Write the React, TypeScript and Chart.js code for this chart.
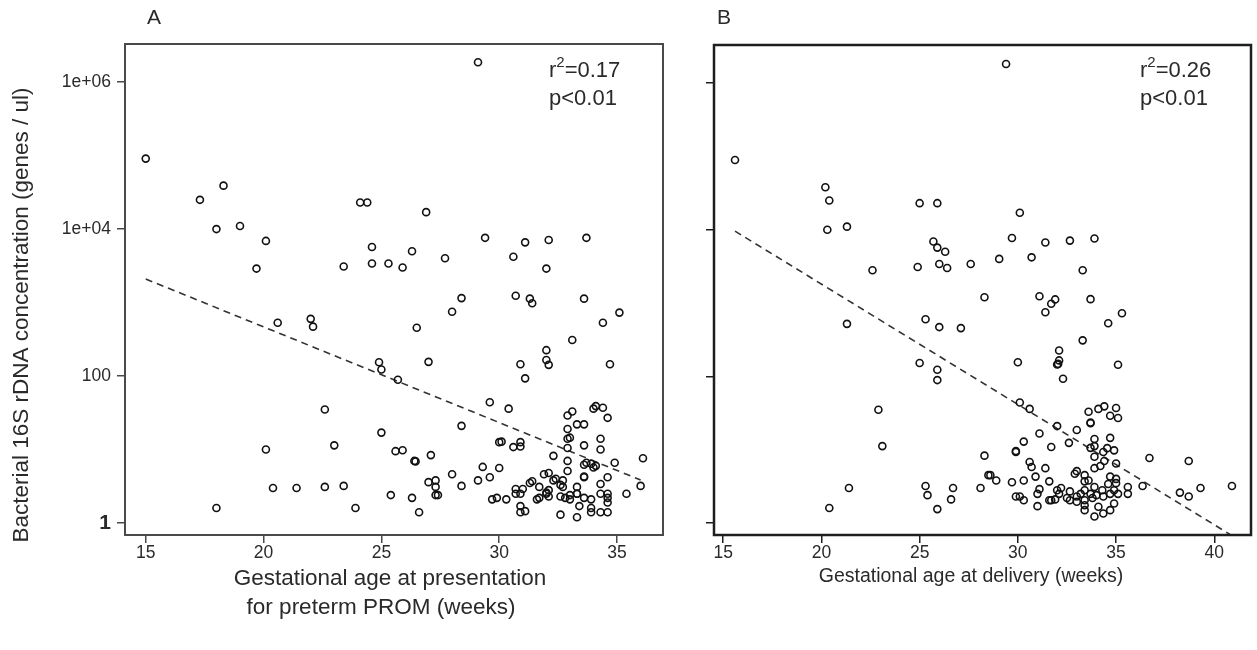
import React, { useEffect, useRef } from 'react';
import { Chart, registerables } from 'chart.js';
Chart.register(...registerables);

// ---------- Panel A: gestational age at presentation vs bacterial load ----------
const presentationWeeks = [
  15.0, 17.3, 18.3, 18.0, 19.0, 20.1, 19.7, 24.1, 24.4, 24.6, 24.6, 23.4, 25.3, 25.9, 26.3, 29.1, 26.9, 27.7, 29.4, 31.1,
  32.1, 33.7, 30.6, 32.0, 20.6, 22.0, 22.1, 26.5, 24.9, 25.0, 25.7, 22.6, 25.0, 20.1, 23.0, 25.6, 25.9, 26.4, 26.45, 20.4,
  21.4, 22.6, 23.4, 18.0, 23.9, 25.4, 26.3, 26.6, 28.4, 28.0, 27.0, 30.7, 31.3, 31.4, 33.6, 35.1, 34.4, 33.1, 32.0, 32.0,
  32.1, 30.9, 31.1, 34.7, 29.6, 30.4, 28.4, 27.1, 30.0, 30.1, 30.6, 30.9, 30.9, 27.0, 27.3, 27.3, 27.3, 27.4, 28.0, 28.4,
  29.1, 29.3, 29.6, 30.0, 29.7, 29.9, 30.3, 30.7, 30.7, 31.0, 30.9, 30.9, 30.9, 31.1, 31.3, 31.4, 31.6, 31.7, 31.7, 31.9,
  32.1, 32.0, 32.1, 32.1, 32.3, 32.3, 32.6, 32.7, 32.7, 32.9, 33.1, 32.9, 32.9, 33.0, 32.9, 32.9, 32.9, 33.3, 33.6, 33.6,
  33.6, 33.7, 33.9, 34.0, 34.1, 33.6, 33.6, 34.0, 34.1, 34.4, 34.6, 34.3, 34.3, 34.9, 34.6, 34.3, 34.3, 34.6, 34.6, 34.6,
  34.6, 34.3, 33.9, 33.9, 33.9, 33.3, 33.3, 33.4, 33.3, 33.6, 35.4, 36.1, 36.0, 32.6, 32.8, 33.0, 33.0, 33.3, 32.4, 32.6,
  32.0,
];
const bacteriaA = [
  91000, 25000, 39000, 10000, 11000, 6900, 2900, 23000, 23000, 5700, 3400, 3100, 3400, 3000, 5000, 1860000, 17000, 4000, 7600, 6600,
  7100, 7600, 4200, 2900, 530, 600, 470, 455, 154, 123, 89, 35, 17, 10, 11.4, 9.5, 9.8, 7.0, 6.9, 3.0,
  3.0, 3.1, 3.2, 1.6, 1.6, 2.4, 2.2, 1.4, 1150, 750, 156, 1240, 1130, 980, 1130, 730, 530, 310, 225, 165,
  142, 145, 93, 145, 44, 36, 21, 8.4, 12.6, 12.8, 10.8, 11, 12.6, 3.6, 3.8, 3.1, 2.4, 2.4, 4.6, 3.2,
  3.8, 5.8, 4.2, 5.6, 2.1, 2.2, 2.1, 2.9, 2.5, 2.9, 2.5, 1.7, 1.4, 1.45, 3.5, 3.7, 2.1, 2.2, 3.1, 4.6,
  4.8, 2.5, 2.8, 2.3, 8.2, 3.8, 1.3, 3.8, 3.1, 29, 33, 19, 14, 14.5, 10.5, 7.0, 5.1, 22, 22, 11.4,
  6.2, 6.6, 6.4, 5.7, 6.0, 4.2, 4.3, 36, 39, 37, 27, 14, 10, 6.6, 4.2, 3.4, 2.5, 2.5, 2.2, 1.9,
  1.4, 1.4, 1.4, 1.6, 2.1, 3.1, 2.5, 1.7, 1.2, 2.2, 2.5, 7.6, 3.2, 2.3, 2.2, 2.1, 2.4, 2.5, 4.0, 3.3,
  2.6,
];
const fitWeeksA = [15.0, 36.0];
const fitBacteriaA = [2090, 3.85];

// ---------- Panel B: gestational age at delivery vs bacterial load ----------
const deliveryWeeks = [
  15.6, 20.2, 20.4, 20.3, 21.3, 22.6, 25.0, 25.9, 25.7, 25.9, 26.3, 24.9, 26.0, 26.4, 27.6, 29.4, 30.1, 29.7, 31.4, 32.65,
  33.9, 29.05, 30.7, 33.3, 28.3, 31.1, 31.7, 31.9, 31.4, 33.7, 35.3, 34.6, 33.3, 32.1, 32.1, 32.0, 32.05, 32.3, 30.0, 35.1,
  21.3, 25.3, 26.0, 27.1, 25.0, 25.9, 25.9, 22.9, 23.1, 28.3, 28.5, 21.4, 20.4, 25.3, 25.4, 25.9, 26.7, 26.6, 28.1, 30.1,
  30.6, 32.0, 31.1, 33.0, 32.6, 30.3, 29.9, 29.9, 31.7, 28.6, 28.9, 29.7, 30.3, 30.9, 31.6, 30.6, 30.7, 31.4, 29.9, 30.1,
  30.3, 31.0, 31.1, 31.0, 31.7, 33.6, 34.1, 34.4, 35.0, 34.7, 35.1, 33.7, 33.7, 33.9, 33.7, 33.9, 34.7, 34.55, 34.9, 34.35,
  33.9, 34.4, 35.0, 33.9, 34.2, 36.7, 38.7, 33.0, 32.9, 33.4, 33.6, 33.4, 34.7, 35.0, 34.6, 35.0, 35.6, 35.6, 36.35, 38.25,
  38.7, 39.3, 40.9, 32.0, 32.2, 32.1, 32.65, 32.5, 33.0, 33.2, 32.65, 33.4, 33.7, 33.9, 34.0, 34.3, 33.4, 33.8, 34.35, 34.7,
  34.9, 35.1, 34.9, 34.7, 34.35, 33.9, 33.4, 33.4, 34.1, 31.6, 31.9, 33.0,
];
const bacteriaB = [
  89000, 38000, 25000, 10000, 11000, 2800, 23000, 23000, 6900, 5700, 5000, 3100, 3400, 3000, 3400, 1820000, 17000, 7700, 6700, 7100,
  7600, 4000, 4200, 2800, 1200, 1240, 980, 1120, 750, 1130, 725, 530, 310, 225, 165, 145, 148, 93, 156, 144,
  520, 600, 470, 455, 152, 123, 89, 35, 11.2, 8.3, 4.5, 3.0, 1.6, 3.2, 2.4, 1.55, 3.0, 2.1, 3.0, 44,
  36, 21, 16.6, 18.6, 12.4, 12.9, 9.3, 9.6, 10.9, 4.5, 3.8, 3.6, 3.8, 4.3, 3.7, 6.8, 5.8, 5.6, 2.3, 2.3,
  2.05, 2.5, 2.9, 1.7, 2.05, 33, 36, 39, 37, 29, 27, 23, 23.5, 14, 10.6, 11.2, 14.5, 10.5, 9.8, 9.3,
  8.0, 7.0, 6.5, 5.6, 6.0, 7.7, 7.0, 5.1, 4.7, 4.5, 3.8, 3.7, 4.3, 4.0, 3.4, 3.5, 3.1, 2.5, 3.2, 2.6,
  2.3, 3.0, 3.2, 2.8, 3.0, 2.5, 2.7, 2.2, 2.3, 2.5, 2.05, 2.8, 2.5, 3.1, 2.4, 2.8, 2.05, 2.2, 2.3, 2.5,
  2.8, 2.5, 1.85, 1.5, 1.35, 1.23, 1.5, 1.75, 1.67, 2.05, 2.1, 1.95,
];
const fitWeeksB = [15.6, 40.8];
const fitBacteriaB = [9550, 0.7];

// ---------- Axes ----------
const xTicksA = [15, 20, 25, 30, 35];
const xTicksB = [15, 20, 25, 30, 35, 40];
const yTickValues = [1, 100, 10000, 1000000];
const yTickLabels = ['1', '100', '1e+04', '1e+06'];

const FONT = '"Liberation Sans", Arial, Helvetica, sans-serif';
const INK = '#2a2a2a';
const H = 650;

interface PanelSpec {
  canvasLeft: number;
  canvasWidth: number;
  weeks: number[];
  bacteria: number[];
  fitWeeks: number[];
  fitBacteria: number[];
  xMin: number;
  xMax: number;
  xTicks: number[];
  showYLabels: boolean;
  plotLeft: number;
  plotRight: number;
  plotTop: number;
  plotBottom: number;
  frameColor: string;
  frameWidth: number;
  letter: string;
  letterX: number;
  r2: string;
  statX: number;
  xTitle: string[];
  xTitleX: number[];
  xTitleY: number[];
  xTitleSize: number;
  yTitle?: string;
}

const specA: PanelSpec = {
  canvasLeft: 0,
  canvasWidth: 690,
  weeks: presentationWeeks,
  bacteria: bacteriaA,
  fitWeeks: fitWeeksA,
  fitBacteria: fitBacteriaA,
  xMin: 14.12,
  xMax: 36.95,
  xTicks: xTicksA,
  showYLabels: true,
  plotLeft: 125,
  plotRight: 663,
  plotTop: 44,
  plotBottom: 535,
  frameColor: '#4a4a4a',
  frameWidth: 2,
  letter: 'A',
  letterX: 147,
  r2: '0.17',
  statX: 549,
  xTitle: ['Gestational age at presentation', 'for preterm PROM (weeks)'],
  xTitleX: [390, 381],
  xTitleY: [579, 608],
  xTitleSize: 22.5,
  yTitle: 'Bacterial 16S rDNA concentration (genes / ul)',
};

const specB: PanelSpec = {
  canvasLeft: 690,
  canvasWidth: 567,
  weeks: deliveryWeeks,
  bacteria: bacteriaB,
  fitWeeks: fitWeeksB,
  fitBacteria: fitBacteriaB,
  xMin: 14.53,
  xMax: 41.87,
  xTicks: xTicksB,
  showYLabels: false,
  plotLeft: 714,
  plotRight: 1251,
  plotTop: 45,
  plotBottom: 535,
  frameColor: '#1e1e1e',
  frameWidth: 2.5,
  letter: 'B',
  letterX: 717,
  r2: '0.26',
  statX: 1140,
  xTitle: ['Gestational age at delivery (weeks)'],
  xTitleX: [971],
  xTitleY: [577],
  xTitleSize: 19.5,
};

function Panel({ spec }: { spec: PanelSpec }) {
  const ref = useRef<HTMLCanvasElement | null>(null);
  useEffect(() => {
    if (!ref.current) return;
    const off = spec.canvasLeft;
    const textPlugin = {
      id: 'frameAndText',
      afterDraw(chart: any) {
        const ctx = chart.ctx as CanvasRenderingContext2D;
        const a = chart.chartArea;
        ctx.save();
        ctx.strokeStyle = spec.frameColor;
        ctx.lineWidth = spec.frameWidth;
        ctx.strokeRect(a.left, a.top, a.right - a.left, a.bottom - a.top);
        ctx.fillStyle = INK;
        ctx.textBaseline = 'middle';
        // panel letter
        ctx.font = `21px ${FONT}`;
        ctx.textAlign = 'left';
        ctx.fillText(spec.letter, spec.letterX - off, 18);
        // statistics
        let x = spec.statX - off;
        ctx.font = `22px ${FONT}`;
        ctx.fillText('r', x, 71);
        x += ctx.measureText('r').width;
        ctx.font = `15px ${FONT}`;
        ctx.fillText('2', x, 63);
        x += ctx.measureText('2').width;
        ctx.font = `22px ${FONT}`;
        ctx.fillText('=' + spec.r2, x, 71);
        ctx.fillText('p<0.01', spec.statX - off, 99);
        // x title
        ctx.textAlign = 'center';
        ctx.font = `${spec.xTitleSize}px ${FONT}`;
        spec.xTitle.forEach((line, i) => {
          ctx.fillText(line, spec.xTitleX[i] - off, spec.xTitleY[i]);
        });
        // y title
        if (spec.yTitle) {
          ctx.font = `22.5px ${FONT}`;
          ctx.translate(22, 315);
          ctx.rotate(-Math.PI / 2);
          ctx.fillText(spec.yTitle, 0, 0);
        }
        ctx.restore();
      },
    };
    const chart = new Chart(ref.current, {
      type: 'scatter',
      data: {
        datasets: [
          {
            data: spec.weeks.map((w, i) => ({ x: w, y: spec.bacteria[i] })),
            pointRadius: 3.5,
            pointBorderWidth: 1.6,
            pointBorderColor: '#111111',
            pointBackgroundColor: 'rgba(0,0,0,0)',
            borderColor: '#111111',
            backgroundColor: 'rgba(0,0,0,0)',
          },
          {
            data: spec.fitWeeks.map((w, i) => ({ x: w, y: spec.fitBacteria[i] })),
            showLine: true,
            pointRadius: 0,
            borderColor: '#333333',
            borderWidth: 1.6,
            borderDash: [7, 5],
          },
        ],
      } as any,
      options: {
        animation: false,
        responsive: false,
        events: [],
        layout: {
          padding: {
            left: 0,
            top: spec.plotTop,
            right: spec.canvasLeft + spec.canvasWidth - spec.plotRight,
            bottom: 0,
          },
        },
        plugins: { legend: { display: false }, tooltip: { enabled: false } },
        scales: {
          x: {
            type: 'linear',
            min: spec.xMin,
            max: spec.xMax,
            afterBuildTicks: (s: any) => {
              s.ticks = spec.xTicks.map((v) => ({ value: v }));
            },
            afterFit: (s: any) => {
              s.height = H - spec.plotBottom;
            },
            grid: { drawOnChartArea: false, drawTicks: true, tickLength: 8, color: spec.frameColor, lineWidth: 1.5 },
            border: { display: false },
            ticks: {
              color: INK,
              font: { family: FONT, size: 17.5 },
              padding: 0,
              maxRotation: 0,
              autoSkip: false,
              callback: (v: any) => String(v),
            },
          },
          y: {
            type: 'logarithmic',
            min: 0.687,
            max: 3.3e6,
            afterBuildTicks: (s: any) => {
              s.ticks = yTickValues.map((v) => ({ value: v }));
            },
            afterFit: (s: any) => {
              s.width = spec.plotLeft - spec.canvasLeft;
            },
            grid: { drawOnChartArea: false, drawTicks: true, tickLength: 8, color: spec.frameColor, lineWidth: 1.5 },
            border: { display: false },
            ticks: {
              display: spec.showYLabels,
              color: INK,
              padding: 6,
              autoSkip: false,
              font: (ctx: any) =>
                ctx.tick && ctx.tick.value === 1
                  ? { family: FONT, size: 21, weight: 'bold' }
                  : { family: FONT, size: 17.5 },
              callback: (v: any) => {
                const i = yTickValues.indexOf(Number(v));
                return i >= 0 ? yTickLabels[i] : '';
              },
            },
          },
        },
      } as any,
      plugins: [textPlugin],
    });
    return () => chart.destroy();
  }, [spec]);
  return (
    <canvas
      ref={ref}
      width={spec.canvasWidth}
      height={H}
      style={{ position: 'absolute', left: spec.canvasLeft, top: 0, width: spec.canvasWidth, height: H }}
    />
  );
}

export default function App() {
  return (
    <div style={{ position: 'fixed', left: 0, top: 0, width: 1257, height: H, background: '#ffffff' }}>
      <Panel spec={specA} />
      <Panel spec={specB} />
    </div>
  );
}
